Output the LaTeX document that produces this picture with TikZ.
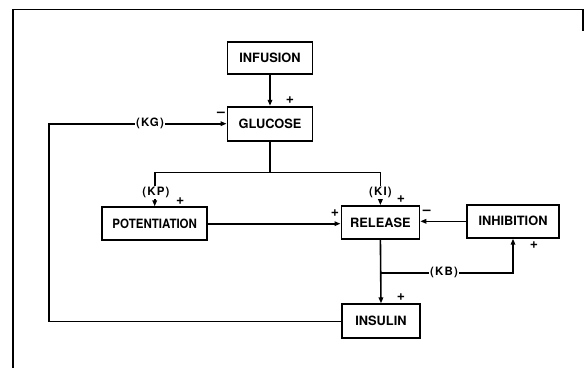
\documentclass[tikz,border=0pt]{standalone}
\usepackage{fontspec}
\setmainfont{TeX Gyre Heros}
\newfontfamily\labfont[LetterSpace=10]{TeX Gyre Heros}
\usetikzlibrary{arrows.meta}
\begin{document}
\begin{tikzpicture}[x=1pt,y=-1pt,
  blk/.style={draw,line width=1.8pt,inner sep=0pt,font=\fontsize{12.8}{14}\selectfont\bfseries},
  conn/.style={line width=1.6pt},
  arr/.style={conn,-{Triangle[length=6pt,width=4.5pt]}},
  lab/.style={fill=white,inner sep=1pt,font=\fontsize{11.5}{12}\labfont\bfseries},
  sgn/.style={inner sep=0pt,font=\fontsize{14}{14}\selectfont\bfseries}]
\useasboundingbox (0,0) rectangle (588,368);
% frame
\draw[line width=1.8pt] (13,368) -- (13,9.5) -- (583,9.5) -- (583,31);
% boxes
\node[blk,minimum width=85pt,minimum height=32pt] (inf) at (270,57.8) {INFUSION};
\node[blk,minimum width=85pt,minimum height=34pt] (glu) at (270,123.7) {GLUCOSE};
\node[blk,minimum width=105pt,minimum height=33pt] (pot) at (154.7,223.7) {\scalebox{0.9}[1]{POTENTIATION}};
\node[blk,minimum width=78pt,minimum height=33pt] (rel) at (380.4,222.5) {RELEASE};
\node[blk,minimum width=91.5pt,minimum height=33pt] (inh) at (513,221.3) {INHIBITION};
\node[blk,minimum width=78pt,minimum height=34pt] (ins) at (381,321.3) {INSULIN};
% helper coordinates
\coordinate (kgc) at (48.7,0);
\coordinate (sp) at (270,172.3);
\coordinate (kb) at (380.4,272.7);
% connectors
\draw[arr] (inf) -- (glu);
\draw[arr] (ins.west) -| (kgc |- glu.west) -- (glu.west);
\draw[conn] (glu.south) -- (sp);
\draw[arr] (sp) -| (pot.north);
\draw[arr] (sp) -| (rel.north);
\draw[arr] (pot.east) -- (rel.west |- pot.east);
\draw[arr] (inh.west) -- (rel.east |- inh.west);
\draw[arr] (rel.south) -- (ins.north);
\draw[arr] (kb) -| (inh.south);
% labels on lines
\node[lab] (kg) at (150,123.7) {(KG)};
\node[lab] (kp) at (156,192.3) {(KP)};
\node[lab] (ki) at (380.4,192.3) {(KI)};
\node[lab] (kbl) at (444,272.7) {(KB)};
% signs
\node[sgn] (s1) at (290,100) {+};
\node[sgn] (s2) at (221,114.3) {–};
\node[sgn] (s3) at (180.3,201.5) {+};
\node[sgn] (s4) at (401,199.5) {+};
\node[sgn] (s5) at (335,213.3) {+};
\node[sgn] (s6) at (426.7,212.3) {–};
\node[sgn] (s7) at (401,296.7) {+};
\node[sgn] (s8) at (534,245) {+};
\end{tikzpicture}
\end{document}
